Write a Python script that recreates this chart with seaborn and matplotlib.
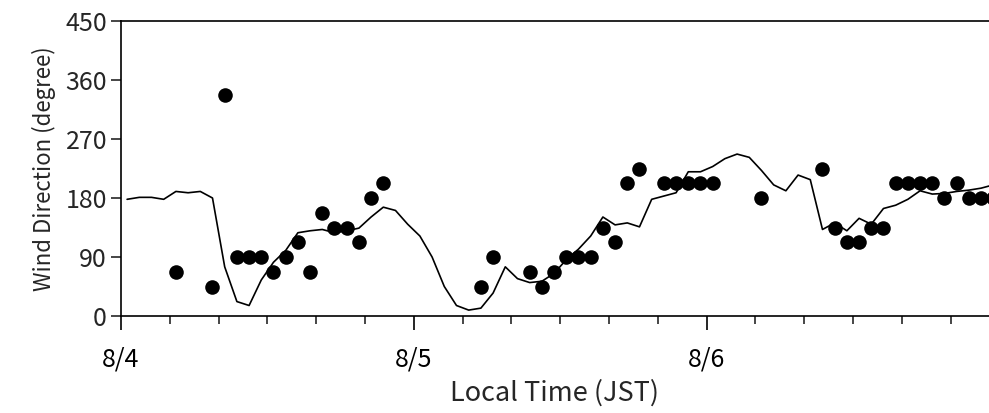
import matplotlib
matplotlib.use("Agg")
import matplotlib.pyplot as plt
import seaborn as sns
import numpy as np
import pandas as pd
from matplotlib.ticker import MultipleLocator

# hourly values, plotted at the middle of each hour (hours since 8/4 00:00)
model_hours = np.arange(72) + 0.5
model_dir = [178, 181, 181, 178, 190, 188, 190, 180, 75, 22,
             16, 55, 82, 100, 127, 130, 132, 127, 130, 134,
             151, 166, 161, 140, 122, 90, 45, 16, 9, 12,
             35, 75, 57, 51, 53, 65, 86, 102, 122, 151,
             139, 142, 136, 178, 183, 188, 220, 220, 228, 240,
             247, 242, 222, 200, 191, 215, 208, 132, 142, 130,
             149, 140, 164, 169, 178, 191, 186, 187, 190, 192,
             195, 200]

obs_hours = [4.5, 7.5, 8.5, 9.5, 10.5, 11.5, 12.5, 13.5, 14.5, 15.5,
             16.5, 17.5, 18.5, 19.5, 20.5, 21.5,
             29.5, 30.5, 33.5, 34.5, 35.5, 36.5, 37.5, 38.5, 39.5, 40.5,
             41.5, 42.5, 44.5, 45.5, 46.5, 47.5, 48.5, 52.5,
             57.5, 58.5, 59.5, 60.5, 61.5, 62.5, 63.5, 64.5, 65.5, 66.5,
             67.5, 68.5, 69.5, 70.5, 71.5]
obs_dir = [67.5, 45, 337.5, 90, 90, 90, 67.5, 90, 112.5, 67.5,
           157.5, 135, 135, 112.5, 180, 202.5,
           45, 90, 67.5, 45, 67.5, 90, 90, 90, 135, 112.5,
           202.5, 225, 202.5, 202.5, 202.5, 202.5, 202.5, 180,
           225, 135, 112.5, 112.5, 135, 135, 202.5, 202.5, 202.5, 202.5,
           180, 202.5, 180, 180, 180]

day_ticks = [0, 24, 48]
day_labels = ["8/4", "8/5", "8/6"]

sns.set_style("ticks")
plt.rcParams['font.family'] = ['Noto Sans CJK JP', 'DejaVu Sans']

fig = plt.figure(figsize=(9.89, 4.13), dpi=100)
ax = fig.add_axes([121 / 989, 97 / 413, 868 / 989, 295 / 413])

model = pd.DataFrame({"hour": model_hours, "dir": model_dir})
obs = pd.DataFrame({"hour": obs_hours, "dir": obs_dir})

sns.lineplot(data=model, x="hour", y="dir", color="black", linewidth=1.2, ax=ax)
sns.scatterplot(data=obs, x="hour", y="dir", color="black", s=110,
                edgecolor="black", linewidth=0, ax=ax, zorder=3)

# axis runs a little short of 8/7, so the last dot is cut at the edge
ax.set_xlim(0, 71.15)
ax.set_ylim(0, 450)
ax.set_yticks(np.arange(0, 451, 90))
ax.set_xticks(day_ticks)
ax.set_xticklabels(day_labels)
ax.xaxis.set_minor_locator(MultipleLocator(4))

ax.tick_params(axis="x", which="major", direction="out", length=10, width=1.2,
               pad=12, labelsize=18, colors="black")
ax.tick_params(axis="x", which="minor", direction="out", length=6, width=1.2)
ax.tick_params(axis="y", direction="out", length=7, width=1.2, pad=3,
               labelsize=18)

for side in ["left", "bottom", "top"]:
    ax.spines[side].set_linewidth(1.2)
    ax.spines[side].set_color("black")
ax.spines["right"].set_visible(False)

ax.set_xlabel("Local Time (JST)", fontsize=19.5, labelpad=5)
ax.set_ylabel("Wind Direction (degree)", fontsize=16, labelpad=7)

fig.savefig("out.png", dpi=100)
plt.close(fig)
